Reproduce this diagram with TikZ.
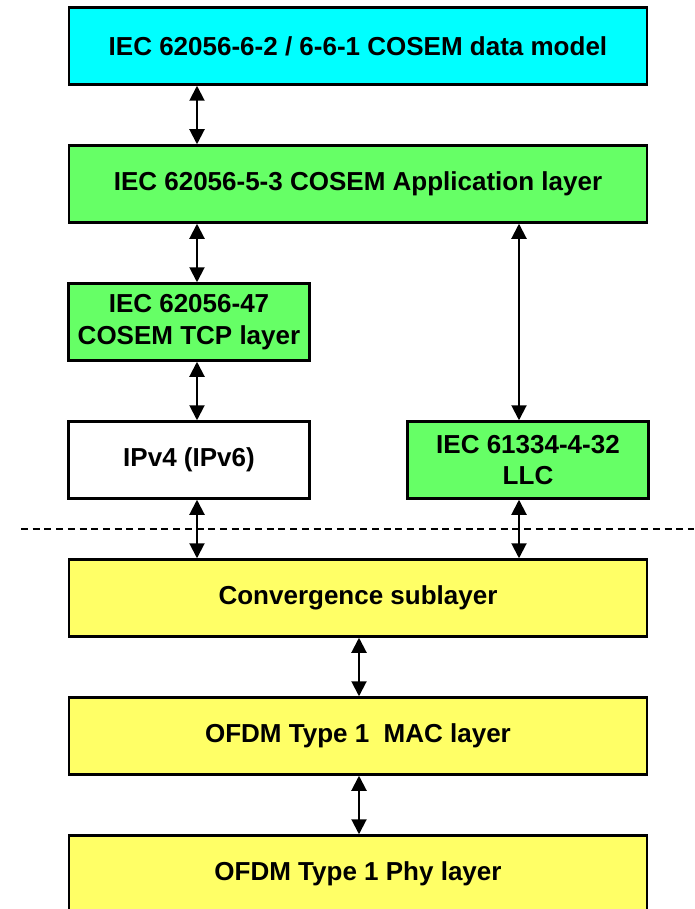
\documentclass[tikz,border=0pt]{standalone}
\usepackage{fontspec}
\setmainfont{Liberation Sans}
\usetikzlibrary{arrows.meta}
\definecolor{modelcyan}{RGB}{0,255,255}
\definecolor{cosemgreen}{RGB}{102,255,102}
\definecolor{plcyellow}{RGB}{255,255,102}

\begin{document}
\begin{tikzpicture}[x=1pt,y=-1pt]
  \fontsize{26}{31.6}\selectfont\bfseries
  \useasboundingbox (0,0) rectangle (694,909);
  \clip (0,0) rectangle (694,909);
  \tikzstyle{every node}=[rectangle,draw,line width=2.5pt,align=center,inner sep=0pt]
  \tikzstyle{wide}=[minimum width=578pt,minimum height=77pt]
  \tikzstyle{half}=[minimum width=241pt,minimum height=77pt]
  \node[wide,fill=modelcyan]  (datamodel) at (358,46)  {IEC 62056-6-2 / 6-6-1 COSEM data model};
  \node[wide,fill=cosemgreen] (app)       at (358,184) {IEC 62056-5-3 COSEM Application layer};
  \node[half,fill=cosemgreen] (tcp)       at (189,322) {IEC 62056-47\\COSEM TCP layer};
  \node[half,fill=white]      (ip)        at (189,460) {IPv4 (IPv6)};
  \node[half,fill=cosemgreen] (llc)       at (528,460) {IEC 61334-4-32\\LLC};
  \node[wide,fill=plcyellow]  (conv)      at (358,598) {Convergence sublayer};
  \node[wide,fill=plcyellow]  (mac)       at (358,736) {OFDM Type 1\ \ MAC layer};
  \node[wide,fill=plcyellow]  (phy)       at (358,874) {OFDM Type 1 Phy layer};

%% boundary line
  \coordinate (dashl) at (21,529);
  \coordinate (dashr) at (694,529);
  \draw[dash pattern=on 7pt off 4.7pt,line width=1.7pt] (dashl) -- (dashr);

%% draw connections
  \tikzstyle{link}=[{Triangle[width=15pt,length=15pt]}-{Triangle[width=15pt,length=15pt]},line width=2pt]
  \coordinate (lft) at (197,0);
  \coordinate (rgt) at (519,0);
  \coordinate (mid) at (359,0);
  \foreach \a/\b/\x in {datamodel/app/lft, app/tcp/lft, tcp/ip/lft, ip/conv/lft,
                        app/llc/rgt, llc/conv/rgt, conv/mac/mid, mac/phy/mid}
    \draw[link] (\a.south -| \x) -- (\b.north -| \x);
\end{tikzpicture}
\end{document}
